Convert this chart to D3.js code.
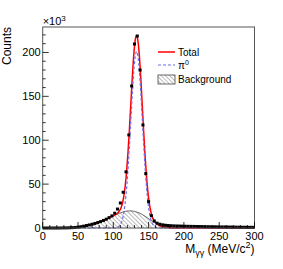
<!DOCTYPE html>
<html lang="en">
<head>
    <meta charset="UTF-8">
    <title>M_gg fit</title>
    <script src="https://d3js.org/d3.v7.min.js"></script>
    <style>
        body { margin: 0; background: #fff; }
        text { font-family: "Liberation Sans", Arial, sans-serif; fill: #000; }
    </style>
</head>
<body>
    <div id="chart"></div>
    <script type="text/javascript">

        // histogram, 4 MeV bins (counts in units of 10^3)
        let binCenters = [2, 6, 10, 14, 18, 22, 26, 30, 34, 38, 42, 46, 50, 54, 58, 62, 66, 70, 74, 78,
            82, 86, 90, 94, 98, 102, 106, 110, 114, 118, 122, 126, 130, 134, 138, 142, 146, 150, 154, 158,
            162, 166, 170, 174, 178, 182, 186, 190, 194, 198, 202, 206, 210, 214, 218, 222, 226, 230, 234, 238,
            242, 246, 250, 254, 258, 262, 266, 270, 274, 278, 282, 286, 290, 294, 298];
        let counts = [0, 0, 0, 0, 0, 0, 0.05, 0.1, 0.15, 0.25, 0.4, 0.6, 1.0, 1.5, 2.1, 2.8, 3.5, 4.3, 5.2, 6.2,
            7.3, 8.6, 10, 11.8, 13.8, 16.8, 21.6, 28.5, 40.7, 64, 106, 161.8, 209.6, 218.7, 180, 117.4, 62, 30, 14, 8,
            5.5, 4.3, 3.6, 3.1, 2.8, 2.6, 2.4, 2.3, 2.2, 2.1, 2.0, 1.9, 1.85, 1.8, 1.7, 1.65, 1.6, 1.5, 1.45, 1.4,
            1.35, 1.3, 1.25, 1.2, 1.15, 1.1, 1.05, 1.0, 0.95, 0.9, 0.9, 0.85, 0.8, 0.8, 0.75];

        // background curve
        let bkgX = [0, 20, 30, 40, 50, 60, 70, 80, 90, 100, 110, 115, 120, 125, 130, 135, 140, 145, 150, 155, 160, 165, 170, 175, 180, 190, 300];
        let bkgY = [0, 0, 0.05, 0.3, 1.0, 2.4, 4.3, 6.7, 10, 13.8, 17.3, 18.6, 19.4, 19.5, 18.9, 17.7, 15.8, 13.4, 10.6, 7.8, 5.2, 3.1, 1.6, 0.7, 0.2, 0, 0];

        // pi0 curve
        let sigX = [0, 100, 103, 105, 107, 109, 111, 113, 115, 117, 119, 121, 123, 125, 127, 129, 131, 133, 135, 137,
            139, 141, 143, 145, 147, 149, 151, 153, 155, 157, 159, 161, 163, 166, 300];
        let sigY = [0, 0, 0.2, 0.6, 1.3, 2.8, 5.4, 10.3, 18.1, 30, 46.8, 68.9, 95.6, 124.7, 153.5, 178.2, 195, 201, 195, 178.2,
            153.5, 124.7, 95.6, 68.9, 46.8, 30, 18.1, 10.3, 5.4, 2.8, 1.3, 0.6, 0.2, 0, 0];

        // total curve
        let totX = [0, 20, 30, 40, 50, 60, 70, 80, 90, 100, 105, 109, 111, 113, 115, 117, 119, 121, 123, 125, 127, 129, 131, 133,
            135, 137, 139, 141, 143, 145, 147, 149, 151, 153, 155, 157, 159, 161, 163, 165, 170, 175, 180, 190, 300];
        let totY = [0, 0, 0.05, 0.3, 1.0, 2.4, 4.3, 6.7, 10, 13.8, 16.2, 19.8, 23, 28.4, 36.7, 49, 66, 88.3, 115, 144.2, 172.8, 197.3, 213.7, 219.2,
            212.7, 195.2, 169.7, 140, 110, 82.3, 59.1, 41.2, 28.1, 19.2, 13.2, 9.6, 7, 5.4, 4.1, 3.1, 1.6, 0.7, 0.2, 0, 0];

        let xTicks = [0, 50, 100, 150, 200, 250, 300];
        let yTicks = [0, 50, 100, 150, 200];

        let W = 283, H = 269;
        let margin = { left: 42.7, right: 28.5, top: 27, bottom: 41 };

        let svg = d3.select("#chart").append("svg")
            .attr("width", W).attr("height", H);

        let x = d3.scaleLinear().domain([0, 300]).range([margin.left, W - margin.right]);
        let y = d3.scaleLinear().domain([0, 229]).range([H - margin.bottom, margin.top]);

        // hatch pattern for background
        let defs = svg.append("defs");
        defs.append("pattern")
            .attr("id", "hatch")
            .attr("patternUnits", "userSpaceOnUse")
            .attr("width", 3).attr("height", 3)
            .attr("patternTransform", "rotate(-45)")
            .append("line")
            .attr("x1", 0).attr("y1", 0).attr("x2", 0).attr("y2", 3)
            .attr("stroke", "#555").attr("stroke-width", 0.8);

        let bkg = bkgX.map((d, i) => [d, bkgY[i]]);
        let sig = sigX.map((d, i) => [d, sigY[i]]);
        let tot = totX.map((d, i) => [d, totY[i]]);

        svg.append("path")
            .datum(bkg)
            .attr("d", d3.area().x(d => x(d[0])).y0(y(0)).y1(d => y(d[1])).curve(d3.curveMonotoneX))
            .attr("fill", "url(#hatch)");
        svg.append("path")
            .datum(bkg)
            .attr("d", d3.line().x(d => x(d[0])).y(d => y(d[1])).curve(d3.curveMonotoneX))
            .attr("fill", "none").attr("stroke", "#444").attr("stroke-width", 0.8);

        svg.append("path")
            .datum(tot)
            .attr("d", d3.line().x(d => x(d[0])).y(d => y(d[1])).curve(d3.curveMonotoneX))
            .attr("fill", "none").attr("stroke", "#ff0000").attr("stroke-width", 1.5);

        svg.append("path")
            .datum(sig)
            .attr("d", d3.line().x(d => x(d[0])).y(d => y(d[1])).curve(d3.curveMonotoneX))
            .attr("fill", "none").attr("stroke", "#6f6ff0").attr("stroke-width", 1.2)
            .attr("stroke-dasharray", "3,2");

        // data markers
        svg.append("g").selectAll("rect")
            .data(binCenters)
            .enter()
            .append("rect")
            .attr("x", (d) => x(d) - 1.5)
            .attr("y", (d, i) => y(counts[i]) - 1.5)
            .attr("width", 3).attr("height", 3)
            .attr("fill", "#000");

        // frame
        svg.append("rect")
            .attr("x", x(0)).attr("y", y(229))
            .attr("width", x(300) - x(0)).attr("height", y(0) - y(229))
            .attr("fill", "none").attr("stroke", "#555").attr("stroke-width", 1);

        // ticks inside the frame
        let gx = svg.append("g");
        d3.range(0, 301, 10).forEach(function (v) {
            let major = v % 50 === 0;
            gx.append("line")
                .attr("x1", x(v)).attr("x2", x(v))
                .attr("y1", y(0)).attr("y2", y(0) - (major ? 6 : 3))
                .attr("stroke", "#000").attr("stroke-width", 0.8);
        });
        let gy = svg.append("g");
        d3.range(0, 229, 10).forEach(function (v) {
            let major = v % 50 === 0;
            gy.append("line")
                .attr("x1", x(0)).attr("x2", x(0) + (major ? 6 : 3))
                .attr("y1", y(v)).attr("y2", y(v))
                .attr("stroke", "#000").attr("stroke-width", 0.8);
        });

        svg.append("g").selectAll("text")
            .data(xTicks).enter().append("text")
            .attr("x", d => x(d)).attr("y", y(0) + 11.5)
            .attr("text-anchor", "middle").attr("font-size", 11)
            .text(d => d);
        svg.append("g").selectAll("text")
            .data(yTicks).enter().append("text")
            .attr("x", x(0) - 2).attr("y", d => y(d) + 4)
            .attr("text-anchor", "end").attr("font-size", 11)
            .text(d => d);

        // x10^3
        let ex = svg.append("text").attr("x", x(0)).attr("y", 25).attr("font-size", 11);
        ex.append("tspan").text("\u00d710");
        ex.append("tspan").attr("dy", -4).attr("font-size", 8).text("3");

        // axis titles
        svg.append("text")
            .attr("transform", "translate(11," + margin.top + ") rotate(-90)")
            .attr("text-anchor", "end").attr("font-size", 12)
            .text("Counts");

        let xt = svg.append("text").attr("x", x(300)).attr("y", 253)
            .attr("text-anchor", "end").attr("font-size", 12);
        xt.append("tspan").text("M");
        xt.append("tspan").attr("dy", 3).attr("font-size", 9).text("\u03b3\u03b3");
        xt.append("tspan").attr("dy", -3).text(" (MeV/c");
        xt.append("tspan").attr("dy", -5).attr("font-size", 9).text("2");
        xt.append("tspan").attr("dy", 5).text(")");

        // legend
        let lg = svg.append("g");
        lg.append("line").attr("x1", 158).attr("x2", 175).attr("y1", 52).attr("y2", 52)
            .attr("stroke", "#ff0000").attr("stroke-width", 1.5);
        lg.append("text").attr("x", 178).attr("y", 55.5).attr("font-size", 10).text("Total");
        lg.append("line").attr("x1", 158).attr("x2", 175).attr("y1", 65).attr("y2", 65)
            .attr("stroke", "#6f6ff0").attr("stroke-width", 1.2).attr("stroke-dasharray", "3,2");
        let pl = lg.append("text").attr("x", 178).attr("y", 68.5).attr("font-size", 10);
        pl.append("tspan").text("\u03c0");
        pl.append("tspan").attr("dy", -4).attr("font-size", 7).text("0");
        lg.append("rect").attr("x", 158).attr("y", 75).attr("width", 17).attr("height", 9)
            .attr("fill", "url(#hatch)").attr("stroke", "#444").attr("stroke-width", 0.8);
        lg.append("text").attr("x", 178).attr("y", 83).attr("font-size", 10).text("Background");
    </script>
</body>
</html>
